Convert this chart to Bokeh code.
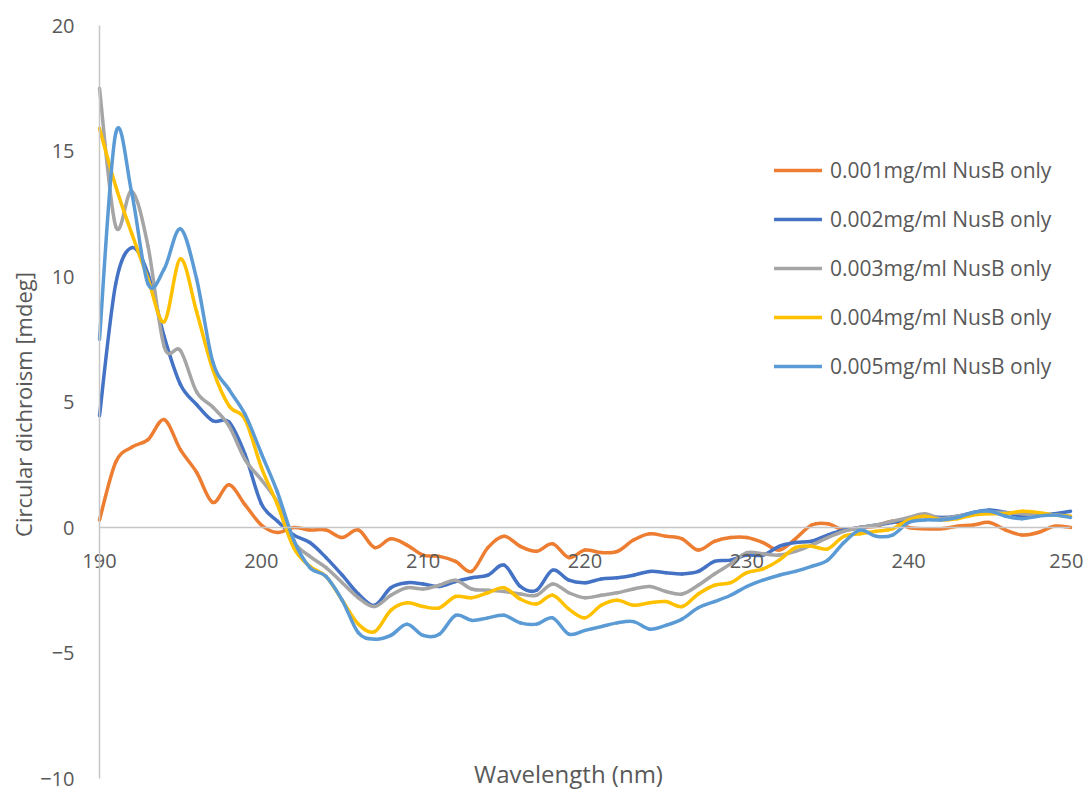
import math

from bokeh.plotting import figure
from bokeh.models import (Range1d, FixedTicker, LinearAxis, Legend, LegendItem, Label,
                          ColumnDataSource)
from bokeh.embed import file_html
from bokeh.resources import INLINE

# CD spectra, 1 nm steps
wavelength = [190, 191, 192, 193, 194, 195, 196, 197, 198, 199,
              200, 201, 202, 203, 204, 205, 206, 207, 208, 209,
              210, 211, 212, 213, 214, 215, 216, 217, 218, 219,
              220, 221, 222, 223, 224, 225, 226, 227, 228, 229,
              230, 231, 232, 233, 234, 235, 236, 237, 238, 239,
              240, 241, 242, 243, 244, 245, 246, 247, 248, 249, 250]

nusb_0001 = [0.3, 2.6, 3.2, 3.5, 4.3, 3.1, 2.2, 1.0, 1.7, 0.9,
             0.1, -0.2, 0.0, -0.1, -0.1, -0.4, -0.1, -0.8, -0.45, -0.7,
             -1.1, -1.15, -1.35, -1.75, -0.8, -0.35, -0.75, -0.95, -0.65, -1.2,
             -0.9, -1.0, -0.95, -0.5, -0.25, -0.35, -0.45, -0.9, -0.55, -0.4,
             -0.4, -0.6, -0.9, -0.45, 0.1, 0.15, -0.1, 0.0, 0.05, 0.25,
             0.0, -0.05, -0.05, 0.05, 0.1, 0.2, -0.1, -0.3, -0.2, 0.05, 0.0]

nusb_0002 = [4.45, 9.7, 11.15, 10.1, 7.6, 5.7, 4.9, 4.25, 4.2, 2.9,
             0.95, 0.25, -0.3, -0.6, -1.2, -1.9, -2.65, -3.1, -2.4, -2.2,
             -2.25, -2.35, -2.15, -2.0, -1.9, -1.5, -2.35, -2.5, -1.7, -2.1,
             -2.2, -2.05, -2.0, -1.9, -1.75, -1.8, -1.85, -1.75, -1.35, -1.3,
             -1.1, -1.1, -0.75, -0.6, -0.55, -0.3, -0.1, 0.0, 0.1, 0.2,
             0.35, 0.45, 0.4, 0.45, 0.6, 0.7, 0.6, 0.45, 0.5, 0.55, 0.65]

nusb_0003 = [17.5, 12.0, 13.4, 11.2, 7.2, 7.05, 5.4, 4.8, 4.05, 2.7,
             1.9, 1.0, -0.55, -1.15, -1.6, -2.2, -2.8, -3.15, -2.7, -2.4,
             -2.45, -2.3, -2.1, -2.45, -2.5, -2.55, -2.65, -2.7, -2.25, -2.6,
             -2.8, -2.7, -2.6, -2.45, -2.35, -2.55, -2.65, -2.3, -1.85, -1.45,
             -1.0, -1.05, -1.1, -0.95, -0.7, -0.4, -0.15, 0.0, 0.1, 0.25,
             0.4, 0.55, 0.35, 0.45, 0.55, 0.6, 0.6, 0.55, 0.5, 0.5, 0.45]

nusb_0004 = [15.9, 13.6, 11.7, 9.9, 8.2, 10.7, 8.6, 6.3, 4.85, 4.3,
             2.4, 0.9, -0.8, -1.55, -1.95, -2.9, -3.85, -4.15, -3.3, -3.0,
             -3.15, -3.2, -2.75, -2.8, -2.6, -2.4, -2.85, -3.05, -2.7, -3.25,
             -3.6, -3.1, -2.9, -3.1, -3.0, -2.95, -3.15, -2.65, -2.3, -2.2,
             -1.8, -1.65, -1.3, -0.8, -0.75, -0.85, -0.35, -0.25, -0.15, -0.05,
             0.3, 0.45, 0.3, 0.35, 0.5, 0.55, 0.55, 0.65, 0.6, 0.5, 0.45]

nusb_0005 = [7.5, 15.7, 13.3, 9.7, 10.3, 11.9, 9.9, 6.6, 5.5, 4.5,
             2.95, 1.4, -0.5, -1.6, -1.95, -2.9, -4.2, -4.45, -4.3, -3.85,
             -4.3, -4.25, -3.5, -3.7, -3.6, -3.5, -3.8, -3.85, -3.6, -4.25,
             -4.1, -3.95, -3.8, -3.75, -4.05, -3.9, -3.65, -3.2, -2.95, -2.7,
             -2.35, -2.1, -1.9, -1.75, -1.55, -1.3, -0.6, -0.1, -0.35, -0.3,
             0.2, 0.3, 0.3, 0.4, 0.6, 0.65, 0.45, 0.35, 0.45, 0.5, 0.4]

series_names = ["0.001mg/ml NusB only", "0.002mg/ml NusB only", "0.003mg/ml NusB only",
                "0.004mg/ml NusB only", "0.005mg/ml NusB only"]
series_values = [nusb_0001, nusb_0002, nusb_0003, nusb_0004, nusb_0005]
series_colors = ["#ED7D31", "#4472C4", "#A5A5A5", "#FFC000", "#5B9BD5"]

x_ticks = [190, 200, 210, 220, 230, 240, 250]
y_ticks = [-10, -5, 0, 5, 10, 15, 20]

FONT = "Open Sans"
TEXT_COLOR = "#595959"
AXIS_COLOR = "#c6c6c6"

# canvas layout (pixels): plotting box inside the page
W, H = 1083, 791
BOX_LEFT, BOX_RIGHT, BOX_TOP, BOX_BOTTOM = 99, 1070, 25, 778


def smooth_segments(xs, ys):
    """Cubic Bezier pieces through every point (Catmull-Rom style control points)."""
    n = len(xs)
    seg = {k: [] for k in ("x0", "y0", "x1", "y1", "cx0", "cy0", "cx1", "cy1")}
    for i in range(n - 1):
        ip, inx = max(i - 1, 0), min(i + 2, n - 1)
        xa, ya, xb, yb = xs[i], ys[i], xs[i + 1], ys[i + 1]
        seg["x0"].append(xa)
        seg["y0"].append(ya)
        seg["x1"].append(xb)
        seg["y1"].append(yb)
        seg["cx0"].append(xa + (xb - xs[ip]) / 6.0)
        seg["cy0"].append(ya + (yb - ys[ip]) / 6.0)
        seg["cx1"].append(xb - (xs[inx] - xa) / 6.0)
        seg["cy1"].append(yb - (ys[inx] - ya) / 6.0)
    return ColumnDataSource(seg)


# the frame fills the whole page so that axis labels outside the box are not clipped
x_lo, x_hi = x_ticks[0], x_ticks[-1]
y_lo, y_hi = y_ticks[0], y_ticks[-1]
xs_per_px = (x_hi - x_lo) / (BOX_RIGHT - BOX_LEFT)
ys_per_px = (y_hi - y_lo) / (BOX_BOTTOM - BOX_TOP)
x_range = Range1d(x_lo - BOX_LEFT * xs_per_px, x_hi + (W - BOX_RIGHT) * xs_per_px)
y_range = Range1d(y_lo - (H - BOX_BOTTOM) * ys_per_px, y_hi + BOX_TOP * ys_per_px)

p = figure(width=W, height=H, output_backend="svg", toolbar_location=None,
           x_range=x_range, y_range=y_range,
           x_axis_location=None, y_axis_location=None,
           min_border=0)
p.outline_line_color = None
p.xgrid.visible = False
p.ygrid.visible = False
p.background_fill_color = "white"
p.border_fill_color = "white"

# vertical axis at 190 nm
yax = LinearAxis(fixed_location=x_lo, bounds=(y_lo, y_hi), ticker=FixedTicker(ticks=y_ticks))
yax.axis_line_color = AXIS_COLOR
yax.axis_line_width = 1.5
yax.major_tick_line_color = None
yax.minor_tick_line_color = None
yax.major_tick_out = 0
yax.major_label_standoff = 25
yax.major_label_text_font = FONT
yax.major_label_text_font_size = "20px"
yax.major_label_text_color = TEXT_COLOR
p.add_layout(yax, "left")

# horizontal axis crossing at zero
xax = LinearAxis(fixed_location=0, bounds=(x_lo, x_hi), ticker=FixedTicker(ticks=x_ticks))
xax.axis_line_color = AXIS_COLOR
xax.axis_line_width = 1.5
xax.major_tick_line_color = None
xax.minor_tick_line_color = None
xax.major_tick_out = 0
xax.major_label_standoff = 26
xax.major_label_text_font = FONT
xax.major_label_text_font_size = "20px"
xax.major_label_text_color = TEXT_COLOR
p.add_layout(xax, "below")

# axis titles
p.add_layout(Label(x=22, y=H - 404, x_units="screen", y_units="screen",
                   text="Circular dichroism [mdeg]", angle=math.pi / 2,
                   text_align="center", text_baseline="middle", text_font=FONT,
                   text_font_size="22px", text_color=TEXT_COLOR))
p.add_layout(Label(x=568, y=H - 773, x_units="screen", y_units="screen",
                   text="Wavelength (nm)", text_align="center",
                   text_baseline="middle", text_font=FONT, text_font_size="24px",
                   text_color=TEXT_COLOR))

items = []
for name, vals, color in zip(series_names, series_values, series_colors):
    r = p.bezier(x0="x0", y0="y0", x1="x1", y1="y1", cx0="cx0", cy0="cy0",
                 cx1="cx1", cy1="cy1", source=smooth_segments(wavelength, vals),
                 line_color=color, line_width=3.5, line_cap="round")
    items.append(LegendItem(label=name, renderers=[r]))

legend = Legend(items=items, location=(774, 410), padding=0, margin=0,
                border_line_color=None, background_fill_alpha=0,
                glyph_width=48, glyph_height=30, label_height=30, spacing=19,
                label_standoff=8, label_text_font=FONT, label_text_font_size="21px",
                label_text_color=TEXT_COLOR)
p.add_layout(legend)

open("out.html", "w").write(file_html(p, INLINE))
